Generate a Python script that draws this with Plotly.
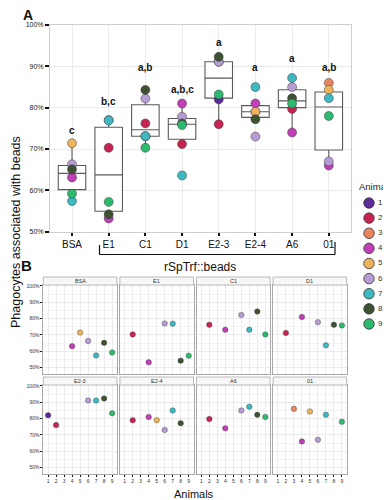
import numpy as np
import plotly.graph_objects as go

# ---------------- data ----------------
conditions = ["BSA", "E1", "C1", "D1", "E2-3", "E2-4", "A6", "01"]
animal_ids = [1, 2, 3, 4, 5, 6, 7, 8, 9]
animal_colors = ["#5B2C9A", "#C62450", "#E8845E", "#BE3FB6", "#EDB45E",
                 "#B59CD2", "#3FB9C1", "#3E5133", "#2EBA6E"]

animals_BSA = [4, 5, 6, 7, 8, 9]
pct_BSA = [63.1, 71.4, 66.3, 57.4, 65.1, 59.2]
animals_E1 = [2, 4, 6, 7, 8, 9]
pct_E1 = [70.3, 53.2, 77.0, 76.9, 54.2, 57.2]
animals_C1 = [2, 4, 6, 7, 8, 9]
pct_C1 = [76.2, 73.1, 82.2, 73.1, 84.3, 70.3]
animals_D1 = [2, 4, 6, 7, 8, 9]
pct_D1 = [71.2, 81.0, 77.8, 63.6, 76.2, 75.8]
animals_E23 = [1, 2, 7, 6, 8, 9]
pct_E23 = [82.0, 76.0, 91.1, 91.1, 92.3, 83.2]
animals_E24 = [2, 4, 5, 6, 7, 8]
pct_E24 = [79.0, 81.0, 79.0, 73.0, 85.0, 77.2]
animals_A6 = [2, 4, 6, 7, 8, 9]
pct_A6 = [79.7, 74.0, 85.0, 87.2, 82.3, 81.0]
animals_01 = [3, 4, 5, 6, 7, 9]
pct_01 = [86.0, 66.0, 84.3, 67.0, 82.3, 78.0]

sig_letters = ["c", "b,c", "a,b", "a,b,c", "a", "a", "a", "a,b"]

animals_by_cond = [animals_BSA, animals_E1, animals_C1, animals_D1,
                   animals_E23, animals_E24, animals_A6, animals_01]
pct_by_cond = [pct_BSA, pct_E1, pct_C1, pct_D1, pct_E23, pct_E24, pct_A6, pct_01]

# ---------------- helpers ----------------
# the page body has an 8px margin, so the figure starts at (8, 8) of the window
OFF = 8
W, H = 391 - OFF, 500 - OFF
def fx(px):
    return (px - OFF) / W
def fy(py):
    return 1 - (py - OFF) / H

FONT = "Liberation Sans, Arial, Helvetica, sans-serif"
col_of = dict(zip(animal_ids, animal_colors))

def box_stats(v):
    v = np.sort(np.asarray(v, dtype=float))
    q1, med, q3 = np.percentile(v, [25, 50, 75])
    iqr = q3 - q1
    lo = v[v >= q1 - 1.5 * iqr].min()
    hi = v[v <= q3 + 1.5 * iqr].max()
    return q1, med, q3, lo, hi

stats = [box_stats(v) for v in pct_by_cond]
cond_idx = list(range(len(conditions)))

fig = go.Figure()

# ---------------- Panel A ----------------
fig.add_trace(go.Box(
    x=conditions,
    q1=[s[0] for s in stats], median=[s[1] for s in stats], q3=[s[2] for s in stats],
    lowerfence=[s[3] for s in stats], upperfence=[s[4] for s in stats],
    width=0.75, fillcolor="white", line=dict(color="#5a5a5a", width=1.1),
    whiskerwidth=0, boxpoints=False, showlegend=False, hoverinfo="skip",
    xaxis="x", yaxis="y"))

px_x, px_y, px_c = [], [], []
for cond, an, pv in zip(conditions, animals_by_cond, pct_by_cond):
    for a, p in zip(an, pv):
        px_x.append(cond)
        px_y.append(p)
        px_c.append(col_of[a])
fig.add_trace(go.Scatter(
    x=px_x, y=px_y, mode="markers",
    marker=dict(color=px_c, size=9, line=dict(color="#3a3a3a", width=0.5)),
    showlegend=False, hoverinfo="skip", xaxis="x", yaxis="y"))

# significance letters
sig_y = [74.6, 81.6, 89.7, 84.5, 95.7, 89.6, 91.8, 89.6]
for i, lab, yy in zip(cond_idx, sig_letters, sig_y):
    fig.add_annotation(x=i, y=yy, xref="x", yref="y", text="<b>%s</b>" % lab,
                       xanchor="center", yanchor="middle",
                       showarrow=False, font=dict(size=10, color="#111", family=FONT))

layout = dict(
    template="none",
    width=W, height=H, margin=dict(l=0, r=0, t=0, b=0, pad=0), autosize=False,
    paper_bgcolor="white", plot_bgcolor="white",
    font=dict(family=FONT, color="#111"),
    showlegend=False,
    xaxis=dict(domain=[fx(50), fx(350.8)], type="category", categoryorder="array",
               categoryarray=conditions, range=[-0.6, 7.6], automargin=False,
               showgrid=True, gridcolor="#EBEBEB", gridwidth=1,
               showline=True, linecolor="#CFCFCF", linewidth=1, mirror=True,
               ticks="outside", ticklen=3, tickwidth=2, tickcolor="#111",
               tickfont=dict(size=10, color="#111"), anchor="y", zeroline=False),
    yaxis=dict(domain=[fy(231.7), fy(25)], range=[50, 100], automargin=False,
               tickvals=[50, 60, 70, 80, 90, 100],
               ticktext=["50%", "60%", "70%", "80%", "90%", "100%"],
               showgrid=True, gridcolor="#EBEBEB", gridwidth=1,
               showline=True, linecolor="#CFCFCF", linewidth=1, mirror=True,
               ticks="outside", ticklen=4, tickwidth=2, tickcolor="#111",
               tickfont=dict(size=7, color="#222"), anchor="x", zeroline=False),
)

# ---------------- Panel B (facets) ----------------
colx = [(43.3, 116.9), (119.9, 193.5), (196.5, 270.1), (273.1, 346.7)]
rowy = [(285, 374), (385, 474)]
strip_h = 8
yr = [46, 100.6]

shapes = []
for i, (cond, an, pv) in enumerate(zip(conditions, animals_by_cond, pct_by_cond)):
    r, c = divmod(i, 4)
    k = i + 2
    xa, ya = "x%d" % k, "y%d" % k
    fig.add_trace(go.Scatter(
        x=an, y=pv, mode="markers",
        marker=dict(color=[col_of[a] for a in an], size=5.5,
                    line=dict(color="#444", width=0.4)),
        showlegend=False, hoverinfo="skip", xaxis=xa, yaxis=ya))
    x0, x1 = colx[c]
    y0, y1 = rowy[r]
    layout["xaxis%d" % k] = dict(
        domain=[fx(x0), fx(x1)], range=[0.4, 9.6], tickvals=animal_ids, automargin=False,
        showgrid=True, gridcolor="#EBEBEB", gridwidth=0.8,
        showline=True, linecolor="#A8A8A8", linewidth=0.8, mirror=True,
        ticks="outside" if r == 1 else "", ticklen=2, tickwidth=1, tickcolor="#111",
        showticklabels=(r == 1), tickfont=dict(size=5, color="#333"),
        anchor=ya, zeroline=False)
    layout["yaxis%d" % k] = dict(
        domain=[fy(y1), fy(y0)], range=yr, tickvals=[50, 60, 70, 80, 90, 100], automargin=False,
        ticktext=["50%", "60%", "70%", "80%", "90%", "100%"],
        showgrid=True, gridcolor="#EBEBEB", gridwidth=0.8,
        minor=dict(dtick=5, tick0=0, showgrid=True, gridcolor="#F4F4F4", ticks=""),
        showline=True, linecolor="#A8A8A8", linewidth=0.8, mirror=True,
        ticks="outside" if c == 0 else "", ticklen=2, tickwidth=1, tickcolor="#111",
        showticklabels=(c == 0), tickfont=dict(size=5, color="#333"),
        anchor=xa, zeroline=False)
    # strip
    shapes.append(dict(type="rect", xref="paper", yref="paper",
                       x0=fx(x0), x1=fx(x1), y0=fy(y0), y1=fy(y0 - strip_h),
                       fillcolor="#F7F7F7", line=dict(color="#A8A8A8", width=0.8)))
    fig.add_annotation(x=fx((x0 + x1) / 2), y=fy(y0 - strip_h / 2), xref="paper", yref="paper",
                       xanchor="center", yanchor="middle",
                       text=cond, showarrow=False, font=dict(size=5.5, color="#333", family=FONT))

# bracket under panel A x-axis
bk_y = 254.5
shapes.append(dict(type="line", xref="paper", yref="paper",
                   x0=fx(99.5), x1=fx(335), y0=fy(bk_y), y1=fy(bk_y), line=dict(color="#111", width=1.2)))
shapes.append(dict(type="line", xref="paper", yref="paper",
                   x0=fx(99.5), x1=fx(99.5), y0=fy(bk_y), y1=fy(245), line=dict(color="#111", width=1.2)))
shapes.append(dict(type="line", xref="paper", yref="paper",
                   x0=fx(335), x1=fx(335), y0=fy(bk_y), y1=fy(242), line=dict(color="#111", width=1.2)))

# ---------------- manual legend ----------------
layout["xaxis10"] = dict(domain=[fx(361), fx(391)], range=[0, 30], visible=False,
                         anchor="y10", fixedrange=True, automargin=False)
layout["yaxis10"] = dict(domain=[fy(332), fy(195)], range=[9.53, 0.471], visible=False,
                         anchor="x10", fixedrange=True, automargin=False)
fig.add_trace(go.Scatter(
    x=[8] * len(animal_ids), y=animal_ids, mode="markers",
    marker=dict(color=animal_colors, size=10.5, line=dict(color="#333", width=0.8)),
    showlegend=False, hoverinfo="skip", xaxis="x10", yaxis="y10", cliponaxis=False))
fig.add_trace(go.Scatter(
    x=[17] * len(animal_ids), y=animal_ids, mode="text",
    text=[str(a) for a in animal_ids], textposition="middle right",
    textfont=dict(size=8, color="#333", family=FONT),
    showlegend=False, hoverinfo="skip", xaxis="x10", yaxis="y10", cliponaxis=False))

layout["shapes"] = shapes
fig.update_layout(**layout)

# titles & panel letters
def label(xp, yp, text, size, angle=0, anchor="center", color="#111", yanchor="middle"):
    fig.add_annotation(x=fx(xp), y=fy(yp), xref="paper", yref="paper", xanchor=anchor,
                       yanchor=yanchor, textangle=angle, text=text, showarrow=False,
                       font=dict(size=size, color=color, family=FONT))

label(389.5, 186, "Animal", 9.5, anchor="right", color="#222")
label(200, 267, "rSpTrf::beads", 12)
label(194, 494, "Animals", 11)
label(16, 232, "Phagocytes associated with beads", 12.5, angle=-90)
label(27.5, 15, "<b>A</b>", 14)
label(26.7, 265, "<b>B</b>", 15)

fig.write_html("out.html")
